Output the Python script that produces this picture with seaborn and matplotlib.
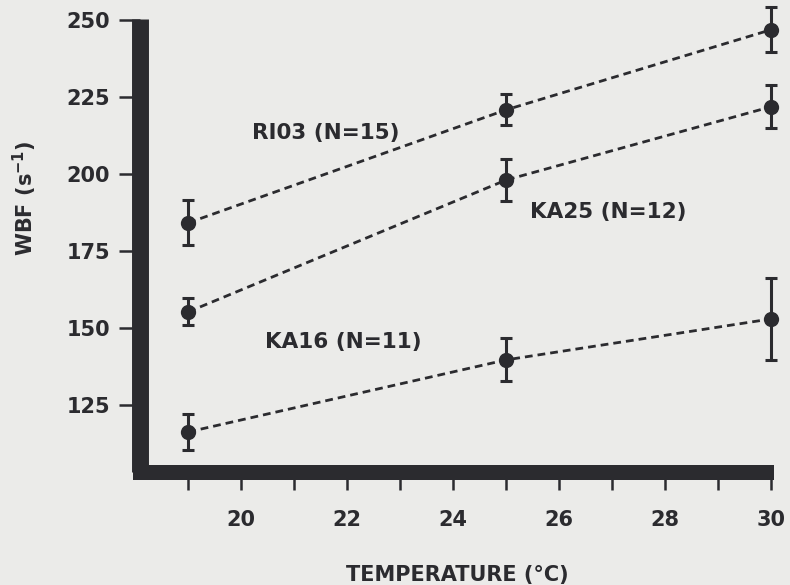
import numpy as np
import pandas as pd
import seaborn as sns
import matplotlib
matplotlib.use("Agg")
import matplotlib.pyplot as plt
from matplotlib.ticker import FixedLocator, FixedFormatter

# ---- data ----
temperatures = [19, 25, 30]
strains = ["RI03 (N=15)", "KA25 (N=12)", "KA16 (N=11)"]
wbf_ri03 = [184.1, 220.8, 246.8]
err_ri03 = [7.3, 5.0, 7.3]
wbf_ka25 = [155.2, 198.0, 221.8]
err_ka25 = [4.4, 6.8, 7.0]
wbf_ka16 = [116.2, 139.6, 152.9]
err_ka16 = [5.7, 7.0, 13.4]
x_ticks = list(range(19, 31))
x_tick_labels = ["" if t % 2 else str(t) for t in x_ticks]
y_ticks = [125, 150, 175, 200, 225, 250]

means = [wbf_ri03, wbf_ka25, wbf_ka16]
errs = [err_ri03, err_ka25, err_ka16]
df = pd.DataFrame({
    "strain": np.repeat(strains, len(temperatures)),
    "temp": temperatures * len(strains),
    "wbf": np.concatenate(means),
    "err": np.concatenate(errs),
})

ink = "#2b2b2f"
bg = "#ebebe9"

sns.set_theme(style="white")
plt.rcParams["font.family"] = ["DejaVu Sans"]

fig = plt.figure(figsize=(7.9, 5.85), dpi=100, facecolor=bg)
ax = fig.add_axes([140 / 790, 113 / 585, 633 / 790, 453 / 585])
ax.set_facecolor(bg)

sns.lineplot(
    data=df, x="temp", y="wbf", hue="strain", style="strain",
    palette={s: ink for s in strains},
    dashes={s: (2.8, 1.8) for s in strains},
    markers={s: "o" for s in strains},
    markersize=11, markeredgewidth=0, linewidth=2,
    estimator=None, legend=False, ax=ax,
)
for ln in ax.lines:
    ln.set_clip_on(False)
eb = ax.errorbar(df["temp"], df["wbf"], yerr=df["err"], fmt="none",
                 ecolor=ink, elinewidth=2.2, capsize=4.3, capthick=2.2, zorder=3)
for art in eb.lines[1] + eb.lines[2]:
    art.set_clip_on(False)

ax.set_xlim(18.09, 30.04)
ax.set_ylim(103.2, 250.3)

for side in ["top", "right"]:
    ax.spines[side].set_visible(False)
ax.spines["left"].set_linewidth(12.2)
ax.spines["left"].set_color(ink)
ax.spines["left"].set_capstyle("butt")
ax.spines["bottom"].set_linewidth(10.8)
ax.spines["bottom"].set_color(ink)
ax.spines["bottom"].set_capstyle("projecting")
ax.spines["bottom"].set_bounds(18.09, 29.9)

ax.xaxis.set_major_locator(FixedLocator(x_ticks))
ax.xaxis.set_major_formatter(FixedFormatter(x_tick_labels))
ax.set_yticks(y_ticks)
ax.set_yticklabels([str(v) for v in y_ticks])
ax.tick_params(axis="x", direction="out", length=13, width=1.8, color=ink,
               pad=14, labelsize=15, labelcolor=ink, bottom=True)
ax.tick_params(axis="y", direction="out", length=15, width=1.8, color=ink,
               pad=6.5, labelsize=15, labelcolor=ink, left=True)
for lab in ax.get_xticklabels() + ax.get_yticklabels():
    lab.set_fontweight("bold")

ax.set_xlabel("TEMPERATURE (°C)", fontsize=15, fontweight="bold", color=ink)
ax.xaxis.set_label_coords(0.502, -0.205)
ax.set_ylabel("WBF (s$^{\\mathbf{-1}}$)", fontsize=15, fontweight="bold", color=ink)
ax.yaxis.label.set_va("center")
ax.yaxis.set_label_coords(-0.182, 0.605)

label_pos = {"RI03 (N=15)": (20.21, 213.3),
             "KA25 (N=12)": (25.45, 187.7),
             "KA16 (N=11)": (20.45, 145.5)}
for s in strains:
    x0, y0 = label_pos[s]
    ax.text(x0, y0, s, ha="left", va="center", fontsize=15.5,
            fontweight="bold", color=ink)

fig.savefig("out.png", dpi=100, facecolor=bg)
